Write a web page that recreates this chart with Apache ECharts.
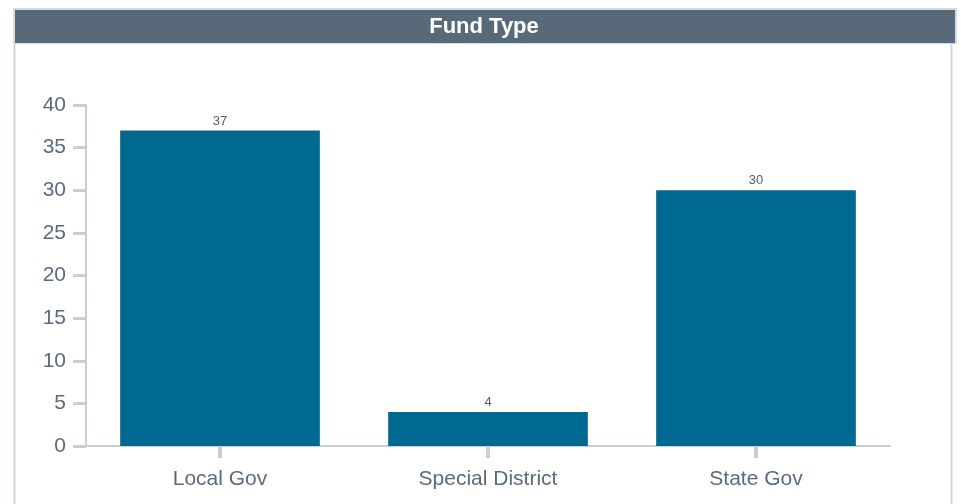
<!DOCTYPE html>
<html>
<head>
<meta charset="utf-8">
<script src="https://cdn.jsdelivr.net/npm/echarts@6/dist/echarts.min.js"></script>
<style>
  html, body { margin: 0; padding: 0; background: #fff; }
  #chart { width: 961px; height: 504px; }
</style>
</head>
<body>
<div id="chart"></div>
<script>
// fund type counts
const categories = ['Local Gov', 'Special District', 'State Gov'];
const counts = [37, 4, 30];

const chart = echarts.init(document.getElementById('chart'));

const axisGrey = '#c9ced4';
const frameGrey = '#cfd4db';
const labelGrey = '#5b6b7b';
const font = '"Liberation Sans", Arial, sans-serif';

const option = {
    animation: false,
    // panel frame + header bar
    graphic: [
        {
            type: 'line',
            shape: { x1: 14.5, y1: 10, x2: 14.5, y2: 504 },
            style: { stroke: frameGrey, lineWidth: 2 },
            z: -10
        },
        {
            type: 'line',
            shape: { x1: 951.5, y1: 10, x2: 951.5, y2: 504 },
            style: { stroke: frameGrey, lineWidth: 2 },
            z: -10
        },
        {
            type: 'rect',
            shape: { x: 13, y: 8, width: 944, height: 36 },
            style: { fill: '#d6dbe2' },
            z: -6
        },
        {
            type: 'rect',
            shape: { x: 15, y: 10, width: 940, height: 33 },
            style: { fill: '#586a7a' },
            z: -5
        },
        {
            type: 'text',
            x: 484,
            y: 27,
            style: {
                text: 'Fund Type',
                fill: '#fff',
                font: 'bold 22px ' + font,
                textAlign: 'center',
                textVerticalAlign: 'middle'
            }
        }
    ],
    grid: {
        left: 86,
        right: 71,
        top: 105,
        bottom: 58
    },
    xAxis: {
        type: 'category',
        data: categories,
        axisLine: { lineStyle: { color: axisGrey, width: 2 } },
        axisTick: {
            show: true,
            interval: 0,
            alignWithLabel: true,
            length: 12,
            lineStyle: { color: axisGrey, width: 4 }
        },
        axisLabel: {
            color: labelGrey,
            fontSize: 21,
            margin: 23,
            fontFamily: font
        }
    },
    yAxis: {
        type: 'value',
        min: 0,
        max: 40,
        interval: 5,
        axisLine: { show: true, lineStyle: { color: axisGrey, width: 2 } },
        axisTick: {
            show: true,
            length: 13,
            lineStyle: { color: axisGrey, width: 3 }
        },
        splitLine: { show: false },
        axisLabel: {
            color: labelGrey,
            fontSize: 21,
            margin: 20,
            fontFamily: font
        }
    },
    series: [{
        type: 'bar',
        data: counts,
        barWidth: '74.5%',
        itemStyle: { color: '#006990' },
        label: {
            show: true,
            position: 'top',
            distance: 3,
            color: '#555c63',
            fontSize: 13,
            fontFamily: font
        }
    }]
};

chart.setOption(option);
</script>
</body>
</html>
